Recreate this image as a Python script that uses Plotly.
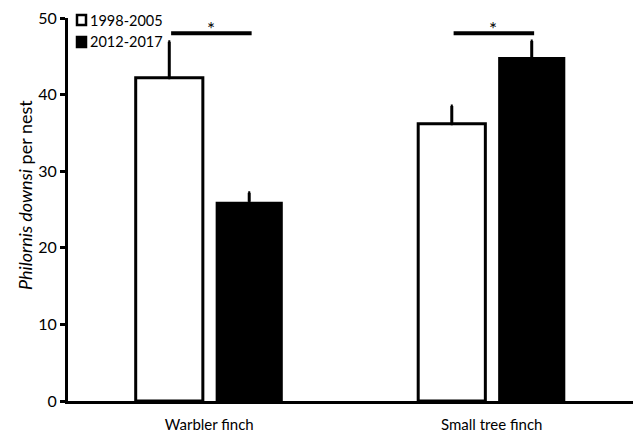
import plotly.graph_objects as go

# Mean Philornis downsi per nest, by species and period
species = ["Warbler finch", "Small tree finch"]
periods = ["1998-2005", "2012-2017"]
means_early = [42.2, 36.2]
means_late = [26.0, 44.9]
se_early = [4.7, 2.3]
se_late = [1.2, 2.1]

# significance brackets over each species pair
sig_heights = [48.0, 48.0]
sig_labels = ["*", "*"]

FONT = "Lato, Carlito, 'Open Sans', sans-serif"

# plot area in pixels, used to place the hand-drawn legend
L, R, T, B, W, H = 68, 3, 18, 33, 636, 434
PW, PH = W - L - R, H - T - B


def px_x(px):
    return (px - L) / PW


def px_y(py):
    return (H - B - py) / PH


fig = go.Figure()
fig.add_trace(go.Bar(
    name=periods[0], x=species, y=means_early,
    marker=dict(color="white", line=dict(color="black", width=3)),
    error_y=dict(type="data", symmetric=False, array=se_early,
                 arrayminus=[0, 0], color="black", thickness=3, width=1),
))
fig.add_trace(go.Bar(
    name=periods[1], x=species, y=means_late,
    marker=dict(color="black", line=dict(color="black", width=0)),
    error_y=dict(type="data", symmetric=False, array=se_late,
                 arrayminus=[0, 0], color="black", thickness=3, width=1),
))

for i, (h, lab) in enumerate(zip(sig_heights, sig_labels)):
    fig.add_shape(type="line", xref="x", yref="y",
                  x0=i - 0.135, x1=i + 0.15, y0=h, y1=h,
                  line=dict(color="black", width=4))
    fig.add_annotation(x=i + 0.005, y=h, text=lab, showarrow=False,
                       yanchor="bottom", yshift=-9,
                       font=dict(size=19, color="black", family=FONT))

# legend: small swatches with the period labels
fills = ["white", "black"]
for k, (lab, fill) in enumerate(zip(periods, fills)):
    cy = 20 + 22 * k
    fig.add_shape(type="rect", xref="paper", yref="paper",
                  x0=px_x(77), x1=px_x(86), y0=px_y(cy + 5), y1=px_y(cy - 5),
                  fillcolor=fill, line=dict(color="black", width=2.5))
    fig.add_annotation(xref="paper", yref="paper", x=px_x(88), y=px_y(cy),
                       text=lab, showarrow=False, xanchor="left",
                       yanchor="middle",
                       font=dict(size=14.5, color="black", family=FONT))

# y-axis title
fig.add_annotation(xref="paper", yref="paper", x=px_x(25), y=px_y(195),
                   text="<i>Philornis downsi</i> per nest", textangle=-90,
                   showarrow=False, xanchor="center", yanchor="middle",
                   font=dict(size=18, color="black", family=FONT))

fig.update_layout(
    width=W, height=H,
    margin=dict(l=L, r=R, t=T, b=B, autoexpand=False),
    plot_bgcolor="white", paper_bgcolor="white",
    barmode="group", bargap=0.434, bargroupgap=0.16,
    showlegend=False,
    font=dict(family=FONT, color="black"),
    xaxis=dict(showline=True, linecolor="black", linewidth=3,
               ticks="", tickfont=dict(size=15), range=[-0.5, 1.5],
               ticklabelstandoff=8, automargin=False,
               showgrid=False, zeroline=False),
    yaxis=dict(range=[0, 50], tickvals=[0, 10, 20, 30, 40, 50],
               showline=True, linecolor="black", linewidth=3,
               ticks="outside", ticklen=5, tickwidth=3, tickcolor="black",
               tickfont=dict(size=16), showgrid=False, zeroline=False,
               automargin=False),
)

fig.write_html("out.html")
